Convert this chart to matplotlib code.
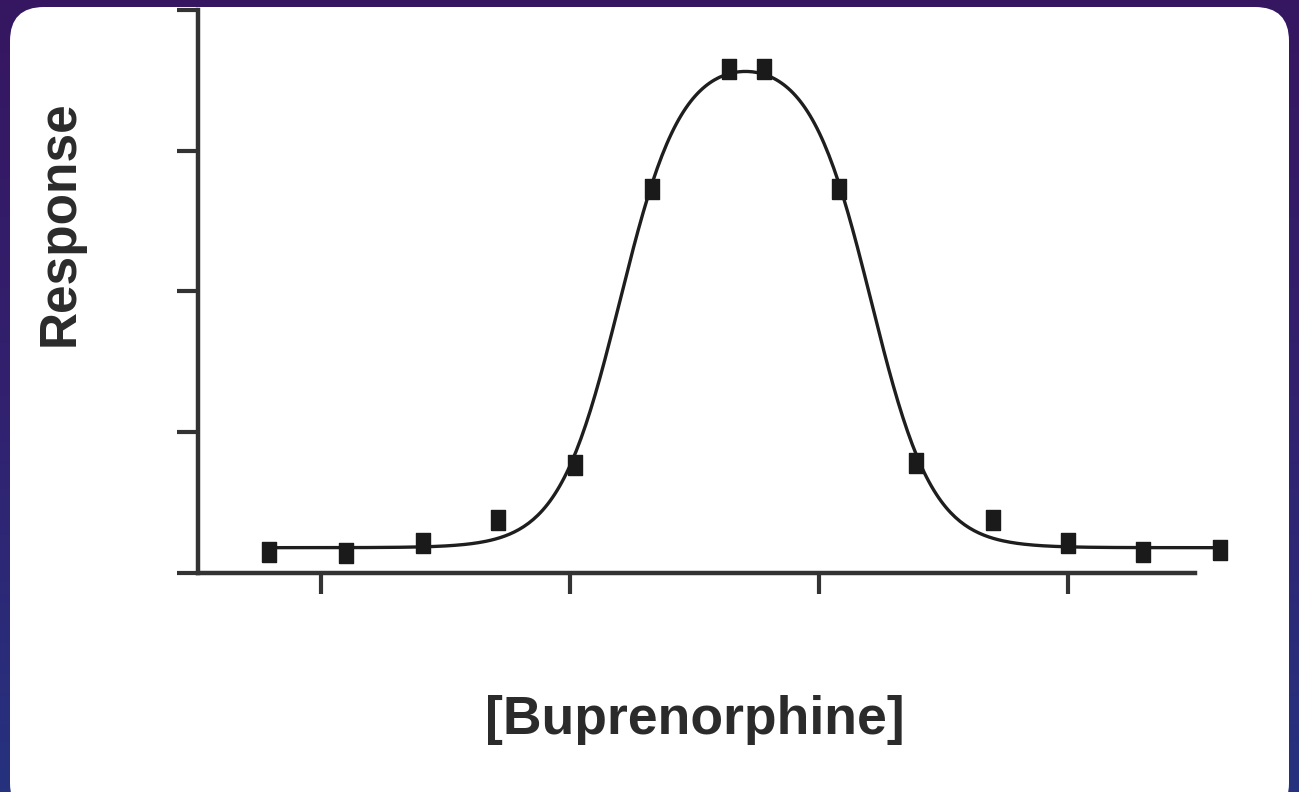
import numpy as np
import matplotlib
matplotlib.use("Agg")
from matplotlib import pyplot as plt
from matplotlib.patches import FancyBboxPatch
from matplotlib.colors import LinearSegmentedColormap

# 数据 (log 浓度, 响应)
log_conc = [-0.21, 0.10, 0.41, 0.71, 1.02, 1.33, 1.64, 1.78, 2.08, 2.39, 2.70, 3.00, 3.30, 3.61]
response = [0.15, 0.14, 0.21, 0.38, 0.77, 2.73, 3.58, 3.58, 2.73, 0.78, 0.38, 0.21, 0.15, 0.16]

# 钟形曲线拟合参数
bottom = 0.18
top = 3.68
ec50_up = 1.20
ec50_down = 2.21
hill = 3.5

x_ticks = [0, 1, 2, 3]
y_ticks = [0, 1, 2, 3, 4]

fig = plt.figure(figsize=(12.99, 7.92), dpi=100)

# 背景: 紫蓝渐变 + 白色圆角卡片
bg = fig.add_axes([0, 0, 1, 1], zorder=0)
bg.set_xlim(0, 1299)
bg.set_ylim(792, 0)
bg.axis("off")
cmap = LinearSegmentedColormap.from_list("slide", ["#361660", "#32216f", "#26327f"])
grad = np.linspace(0, 1, 256).reshape(-1, 1)
bg.imshow(grad, cmap=cmap, extent=[0, 1299, 792, 0], aspect="auto")
card = FancyBboxPatch((10, 7), 1279, 810, boxstyle="round,pad=0,rounding_size=34",
                      facecolor="white", edgecolor="none")
bg.add_patch(card)

ax = fig.add_axes([0.1524, 0.2765, 0.7675, 0.7109], zorder=1)
ax.patch.set_alpha(0)

# 拟合曲线
xs = np.linspace(min(log_conc), max(log_conc), 400)
rise = 1 / (1 + 10 ** ((ec50_up - xs) * hill))
fall = 1 / (1 + 10 ** ((xs - ec50_down) * hill))
ax.plot(xs, bottom + (top - bottom) * rise * fall, color="#1e1e1e", lw=2.4, clip_on=False, zorder=3)

# 数据点 (略高的方块)
box = [(-0.75, -1), (0.75, -1), (0.75, 1), (-0.75, 1), (-0.75, -1)]
ax.plot(log_conc, response, linestyle="none", marker=box, ms=14, color="#1a1a1a",
        clip_on=False, zorder=4)

ax.set_xlim(-0.494, 3.51)
ax.set_ylim(0, 4)
ax.set_xticks(x_ticks)
ax.set_yticks(y_ticks)
ax.set_xticklabels([])
ax.set_yticklabels([])
ax.tick_params(axis="x", direction="out", length=15, width=3, color="#333333")
ax.tick_params(axis="y", direction="out", length=15, width=3, color="#333333")
for side in ["top", "right"]:
    ax.spines[side].set_visible(False)
for side in ["left", "bottom"]:
    ax.spines[side].set_linewidth(3.2)
    ax.spines[side].set_color("#333333")

fig.text(60 / 1299, 1 - 223 / 792, "Response", rotation=90, ha="center", va="center",
         fontsize=37, fontweight="bold", family="Liberation Sans", color="#2b2b2b")
fig.text(695 / 1299, 1 - 720 / 792, "[Buprenorphine]", ha="center", va="center",
         fontsize=38.5, fontweight="bold", family="Liberation Sans", color="#2b2b2b")

fig.savefig("out.png", dpi=100)
